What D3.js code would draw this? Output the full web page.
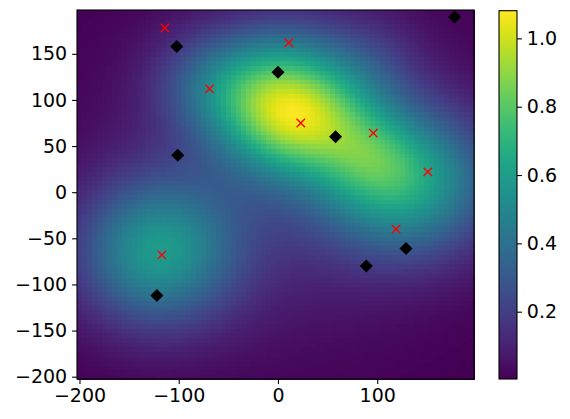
<!DOCTYPE html>
<html>
<head>
<meta charset="utf-8">
<script src="https://cdn.jsdelivr.net/npm/d3@7"></script>
<style>
  body { margin: 0; background: #fff; }
  svg { display: block; font-family: "DejaVu Sans", sans-serif; }
</style>
</head>
<body>
<div id="chart"></div>
<script>
// bumps of the smooth surface
var bumpX   = [17, 130, -122, 90, -55, 10, 0, 90];
var bumpY   = [85, 12, -65, 40, 120, 155, 20, 140];
var bumpAmp = [0.82, 0.58, 0.53, 0.18, 0.3, 0.12, 0.15, 0.12];
var bumpSx  = [50, 60, 55, 35, 45, 40, 110, 40];
var bumpSy  = [45, 55, 55, 35, 40, 35, 110, 40];

// black diamonds
var diamondX = [-102, 0, -101, 58, 178, 129, 89, -122];
var diamondY = [158, 130, 40, 60, 190, -61, -80, -112];

// red crosses
var crossX = [-114, 11, -69, 23, 96, 151, 119, -117];
var crossY = [178, 162, 112, 75, 64, 22, -40, -68];

var xTicks = [-200, -100, 0, 100];
var yTicks = [-200, -150, -100, -50, 0, 50, 100, 150];
var cbTicks = [0.2, 0.4, 0.6, 0.8, 1.0];

var gridStep = 5;
var gridX = d3.range(-200, 200, gridStep);
var gridY = d3.range(-200, 200, gridStep);

var W = 570, H = 419;
var plot = {left: 77, right: 474, top: 10, bottom: 379};
var cb = {left: 499, right: 517, top: 10.7, bottom: 379};
var fontSize = 19;
var tickLen = 4.9;

var svg = d3.select("#chart").append("svg")
    .attr("width", W).attr("height", H);

var x = d3.scaleLinear().domain([-202.5, 197.5]).range([plot.left, plot.right]);
var y = d3.scaleLinear().domain([-202.5, 197.5]).range([plot.bottom, plot.top]);

var vmin = 0.003, vmax = 1.081;
var color = d3.scaleSequential(d3.interpolateViridis).domain([vmin, vmax]);

function surface(px, py) {
  var s = 0;
  for (var k = 0; k < bumpX.length; k++) {
    var dx = (px - bumpX[k]) / bumpSx[k];
    var dy = (py - bumpY[k]) / bumpSy[k];
    s += bumpAmp[k] * Math.exp(-0.5 * (dx * dx + dy * dy));
  }
  return s;
}

var cells = [];
gridY.forEach(function(gy) {
  gridX.forEach(function(gx) {
    cells.push({x: gx, y: gy, v: surface(gx, gy)});
  });
});

svg.append("g")
  .attr("shape-rendering", "crispEdges")
  .selectAll("rect")
  .data(cells)
  .enter().append("rect")
    .attr("x", function(d) { return x(d.x - gridStep / 2); })
    .attr("y", function(d) { return y(d.y + gridStep / 2); })
    .attr("width", x(gridStep) - x(0) + 0.6)
    .attr("height", y(0) - y(gridStep) + 0.6)
    .attr("fill", function(d) { return color(d.v); });

// diamonds
var dr = 6.5;
svg.append("g").selectAll("path")
  .data(diamondX.map(function(v, i) { return [v, diamondY[i]]; }))
  .enter().append("path")
    .attr("d", "M0," + (-dr) + "L" + dr + ",0L0," + dr + "L" + (-dr) + ",0Z")
    .attr("transform", function(d) { return "translate(" + x(d[0]) + "," + y(d[1]) + ")"; })
    .attr("fill", "#000");

// crosses
var cr = 4.2;
svg.append("g").selectAll("path")
  .data(crossX.map(function(v, i) { return [v, crossY[i]]; }))
  .enter().append("path")
    .attr("d", "M" + (-cr) + "," + (-cr) + "L" + cr + "," + cr + "M" + (-cr) + "," + cr + "L" + cr + "," + (-cr))
    .attr("transform", function(d) { return "translate(" + x(d[0]) + "," + y(d[1]) + ")"; })
    .attr("stroke", "red")
    .attr("stroke-width", 1.4)
    .attr("fill", "none");

// axes
var xAxis = svg.append("g")
    .attr("transform", "translate(0," + plot.bottom + ")")
    .call(d3.axisBottom(x).tickValues(xTicks).tickSize(tickLen).tickPadding(4.9)
      .tickFormat(function(d) { return d3.format("d")(d).replace("-", "\u2212"); }));
var yAxis = svg.append("g")
    .attr("transform", "translate(" + plot.left + ",0)")
    .call(d3.axisLeft(y).tickValues(yTicks).tickSize(tickLen).tickPadding(4.9)
      .tickFormat(function(d) { return d3.format("d")(d).replace("-", "\u2212"); }));
[xAxis, yAxis].forEach(function(a) {
  a.select(".domain").remove();
  a.selectAll("text").attr("font-size", fontSize).attr("font-family", "DejaVu Sans").attr("fill", "#000");
  a.selectAll("line").attr("stroke", "#000").attr("stroke-width", 1.1);
});

svg.append("rect")
  .attr("x", plot.left).attr("y", plot.top)
  .attr("width", plot.right - plot.left).attr("height", plot.bottom - plot.top)
  .attr("fill", "none").attr("stroke", "#000").attr("stroke-width", 1.1);

// colorbar
var cbScale = d3.scaleLinear().domain([vmin, vmax]).range([cb.bottom, cb.top]);
var nSteps = 256;
var cbVals = d3.range(nSteps).map(function(i) { return vmin + (vmax - vmin) * (i + 0.5) / nSteps; });
var stepH = (cb.bottom - cb.top) / nSteps;
svg.append("g")
  .attr("shape-rendering", "crispEdges")
  .selectAll("rect")
  .data(cbVals)
  .enter().append("rect")
    .attr("x", cb.left)
    .attr("y", function(d) { return cbScale(d) - stepH / 2 - 0.3; })
    .attr("width", cb.right - cb.left)
    .attr("height", stepH + 0.6)
    .attr("fill", function(d) { return color(d); });

var cbAxis = svg.append("g")
    .attr("transform", "translate(" + cb.right + ",0)")
    .call(d3.axisRight(cbScale).tickValues(cbTicks).tickSize(tickLen).tickPadding(4.9)
      .tickFormat(d3.format(".1f")));
cbAxis.select(".domain").remove();
cbAxis.selectAll("text").attr("font-size", fontSize).attr("font-family", "DejaVu Sans").attr("fill", "#000");
cbAxis.selectAll("line").attr("stroke", "#000").attr("stroke-width", 1.1);

svg.append("rect")
  .attr("x", cb.left).attr("y", cb.top)
  .attr("width", cb.right - cb.left).attr("height", cb.bottom - cb.top)
  .attr("fill", "none").attr("stroke", "#000").attr("stroke-width", 1.1);
</script>
</body>
</html>
